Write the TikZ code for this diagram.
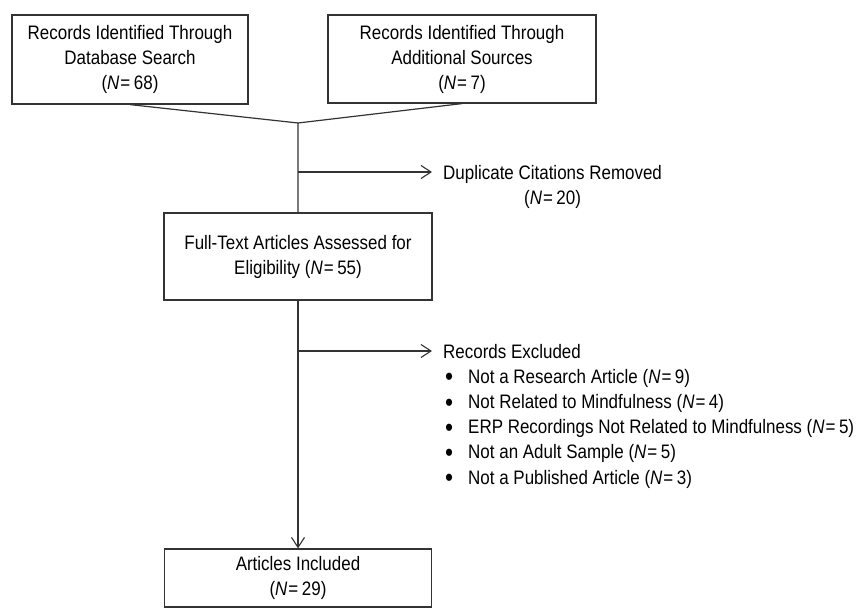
\documentclass[tikz,border=0pt]{standalone}
\usepackage{fontspec}
\setmainfont{Liberation Sans}[FakeStretch=0.87]
\usetikzlibrary{arrows.meta}
\newcommand{\nval}[1]{(\textit{N}\hspace{1pt}=\hspace{3.5pt}#1)}
\newcommand{\bitem}{\hspace{2pt}\raisebox{-2.5pt}{\scalebox{1.35}{\textbullet}}\hspace{15pt}}

\begin{document}
\begin{tikzpicture}[x=1pt,y=-1pt,
  link/.style={line width=1.2pt,draw=black!80},
  >={Straight Barb[length=10pt,width=13pt,line width=1.1pt]}]
\useasboundingbox (0,0) rectangle (862,608);

\begin{scope}[every node/.style={draw=black!80,line width=1.2pt,align=center,text=black,inner sep=0pt,font=\fontsize{19.5}{25}\selectfont}]
\node[minimum width=236pt,minimum height=89pt] (db) at (130,59.5) {Records Identified Through\\Database Search\\\nval{68}};
\node[minimum width=268pt,minimum height=88pt] (add) at (462,59) {Records Identified Through\\Additional Sources\\\nval{7}};
\node[minimum width=268pt,minimum height=87pt] (elig) at (298,256.5) {Full-Text Articles Assessed for\\Eligibility \nval{55}};
\node[minimum width=267pt,minimum height=58pt] (incl) at (298,578) {Articles Included\\\nval{29}};
\end{scope}

\begin{scope}[every node/.style={text=black,inner xsep=11pt,inner ysep=0pt,font=\fontsize{19.5}{25.2}\selectfont}]
\node[align=center,anchor=north west] (dup) at (432,164.8) {Duplicate Citations Removed\\\nval{20}};
\node[align=left,anchor=north west] (excl) at (432,343.8) {Records Excluded\\
\bitem Not a Research Article \nval{9}\\
\bitem Not Related to Mindfulness \nval{4}\\
\bitem ERP Recordings Not Related to Mindfulness \nval{5}\\
\bitem Not an Adult Sample \nval{5}\\
\bitem Not a Published Article \nval{3}};
\end{scope}

\coordinate (merge) at (298,123);
\coordinate (dupfork) at (298,172);
\coordinate (exfork) at (298,351);

\draw[link] (db.south) -- (merge);
\draw[link] (add.south) -- (merge) -- (elig.north);
\draw[link,->] (dupfork) -- (dupfork -| dup.west);
\draw[link,->] (elig.south) -- (incl.north);
\draw[link,->] (exfork) -- (exfork -| excl.west);

\end{tikzpicture}
\end{document}
